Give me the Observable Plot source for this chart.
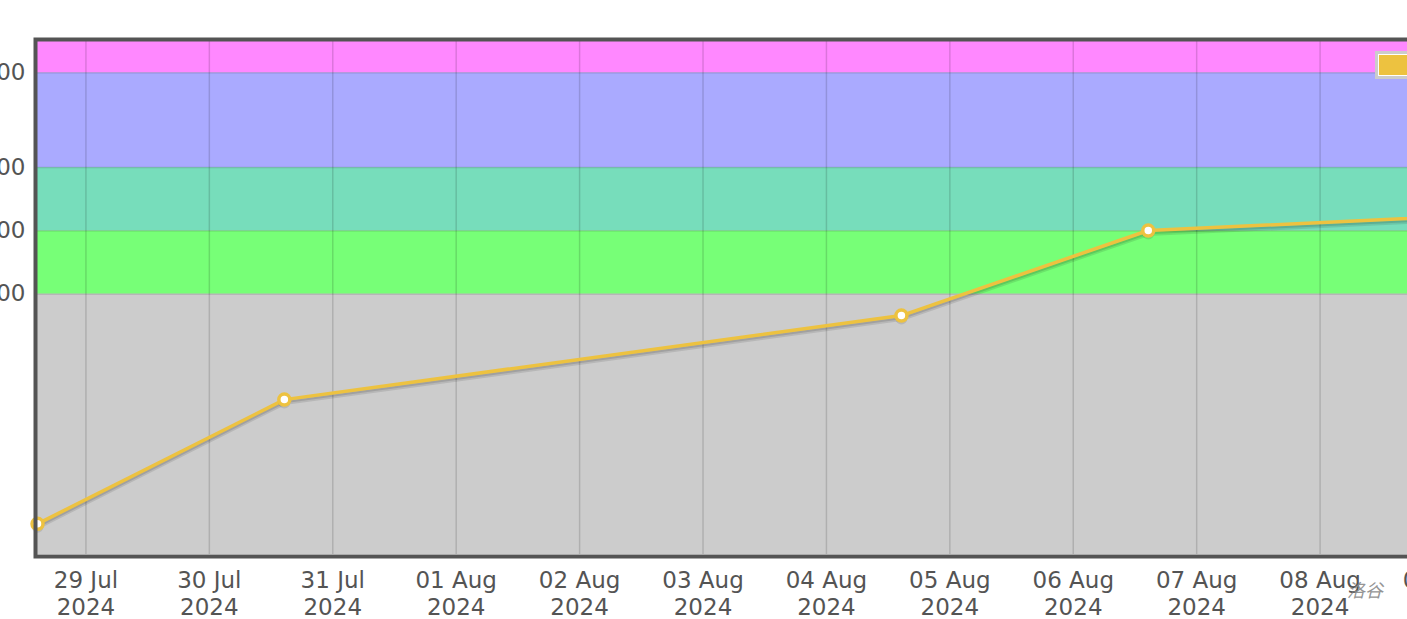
<!DOCTYPE html>
<html>
<head>
<meta charset="utf-8">
<script src="https://cdn.jsdelivr.net/npm/d3@7"></script>
<script src="https://cdn.jsdelivr.net/npm/@observablehq/plot@0.6"></script>
<style>
  html, body { margin: 0; padding: 0; background: #fff; width: 1407px; height: 619px; overflow: hidden; position: relative; }
  #chart { position: absolute; left: -40px; top: 0; width: 1578px; height: 619px; }
  #chart svg { max-width: none !important; width: 1578px !important; height: 619px !important; display: block; }
  #legend { position: absolute; left: 1375px; top: 51px; padding: 1px; border: 3px solid #cccccc; background: #fff; }
  #legend .sw { width: 40px; height: 20px; background: #edc240; }
  #wm { position: absolute; left: 1347px; top: 576px; font: 18px "Noto Sans CJK SC", sans-serif; color: #8a8a8a; font-style: italic; opacity: 0.9; }
</style>
</head>
<body>
<div id="chart"></div>
<div id="legend"><div class="sw"></div></div>
<div id="wm">洛谷</div>
<script>
// Contest dates (UTC) and ratings
const dates = ["2024-07-28T14:35Z", "2024-07-30T14:35Z", "2024-08-04T14:35Z", "2024-08-06T14:35Z", "2024-08-09T14:35Z"];
const ratings = [473, 866, 1132, 1401, 1455];

// Rating bands
const bandLow  = [0,    1200, 1400, 1600, 1900];
const bandHigh = [1200, 1400, 1600, 1900, 2100];
const bandColors = ["#cccccc", "#77ff77", "#77ddbb", "#aaaaff", "#ff88ff"];

// Tick labels
const yTicks = [1200, 1400, 1600, 1900];
const xTicks = ["2024-07-29", "2024-07-30", "2024-07-31", "2024-08-01", "2024-08-02", "2024-08-03",
                "2024-08-04", "2024-08-05", "2024-08-06", "2024-08-07", "2024-08-08", "2024-08-09"];
const yDomain = [376, 1999];

const data = dates.map((d, i) => ({date: new Date(d), rating: ratings[i]}));
const bands = bandLow.map((lo, i) => ({lo, hi: bandHigh[i], color: bandColors[i]}));
const tickDates = xTicks.map(s => new Date(s + "T00:00Z"));
const fmt = d3.utcFormat("%d %b\n%Y");

const chart = Plot.plot({
  width: 1578,
  height: 619,
  marginLeft: 77,
  marginRight: 20,
  marginTop: 41,
  marginBottom: 65,
  style: {fontFamily: "'DejaVu Sans', Verdana, sans-serif", fontSize: "23px", color: "#545454", background: "transparent", overflow: "visible", maxWidth: "none"},
  x: {type: "utc", domain: [data[0].date, data[data.length - 1].date]},
  y: {domain: yDomain},
  marks: [
    Plot.rect(bands, {y1: "lo", y2: "hi", fill: "color", clip: true}),
    Plot.ruleX(tickDates, {stroke: "#000", strokeOpacity: 0.14, strokeWidth: 1.5}),
    Plot.ruleY(yTicks, {stroke: "#000", strokeOpacity: 0.14, strokeWidth: 1.5}),
    Plot.axisY(yTicks, {tickSize: 0, tickPadding: 12, fill: "#545454", fontSize: 23}),
    Plot.axisX(tickDates, {tickSize: 0, tickPadding: 14, tickFormat: fmt, fill: "#545454", fontSize: 23, lineHeight: 1.17}),
    // shadow
    Plot.line(data, {x: "date", y: "rating", stroke: "#000", strokeOpacity: 0.1, strokeWidth: 4, dy: 3.5}),
    Plot.line(data, {x: "date", y: "rating", stroke: "#000", strokeOpacity: 0.12, strokeWidth: 3.5, dy: 2}),
    Plot.line(data, {x: "date", y: "rating", stroke: "#edc240", strokeWidth: 3.5}),
    Plot.dot(data, {x: "date", y: "rating", r: 6, fill: "#000", fillOpacity: 0.1, stroke: "none", dy: 3}),
    Plot.dot(data, {x: "date", y: "rating", r: 5.5, fill: "#fff", stroke: "#edc240", strokeWidth: 3.5}),
    Plot.frame({stroke: "#545454", strokeWidth: 4, inset: -2})
  ]
});
document.getElementById("chart").appendChild(chart);
</script>
</body>
</html>
